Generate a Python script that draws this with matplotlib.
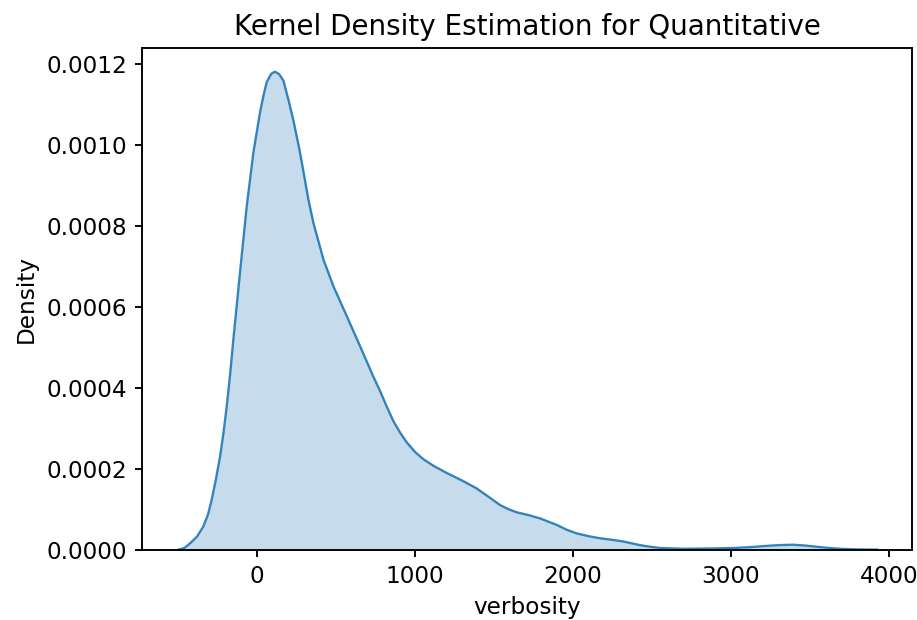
import matplotlib
matplotlib.use("Agg")
import matplotlib.pyplot as plt

# KDE curve (verbosity vs density)
verbosity = [-506, -460, -424, -380, -340, -310, -287, -260, -234, -212, -192,
             -170, -150, -108, -65, -23, 0, 19, 40, 61, 90, 114, 140, 167, 198,
             230, 268, 293, 325, 356, 390, 420, 483, 568, 652, 736, 778, 821,
             863, 905, 947, 1000, 1053, 1120, 1201, 1300, 1390, 1470, 1538,
             1590, 1644, 1720, 1791, 1897, 1960, 2023, 2100, 2171, 2250, 2319,
             2424, 2490, 2551, 2698, 2909, 3020, 3120, 3220, 3300, 3394, 3470,
             3542, 3620, 3690, 3800, 3924]
density = [0.0, 5e-6, 1.65e-5, 3.3e-5, 5.8e-5, 8.8e-5, 1.24e-4, 1.75e-4,
           2.31e-4, 2.90e-4, 3.54e-4, 4.35e-4, 5.19e-4, 6.84e-4, 8.49e-4,
           9.81e-4, 1.035e-3, 1.080e-3, 1.120e-3, 1.154e-3, 1.175e-3, 1.180e-3,
           1.174e-3, 1.158e-3, 1.112e-3, 1.060e-3, 9.89e-4, 9.35e-4, 8.65e-4,
           8.08e-4, 7.60e-4, 7.17e-4, 6.51e-4, 5.77e-4, 5.03e-4, 4.28e-4,
           3.93e-4, 3.54e-4, 3.18e-4, 2.90e-4, 2.66e-4, 2.42e-4, 2.24e-4,
           2.07e-4, 1.90e-4, 1.71e-4, 1.52e-4, 1.30e-4, 1.11e-4, 1.01e-4,
           9.3e-5, 8.6e-5, 7.8e-5, 6.2e-5, 5.0e-5, 4.1e-5, 3.4e-5, 2.9e-5,
           2.5e-5, 2.1e-5, 1.2e-5, 8e-6, 5e-6, 3e-6, 4e-6, 5e-6, 7e-6, 1.0e-5,
           1.2e-5, 1.3e-5, 1.1e-5, 8e-6, 5e-6, 3e-6, 1.5e-6, 1e-6]

title = "Kernel Density Estimation for Quantitative"
xlabel = "verbosity"
ylabel = "Density"
xticks = [0, 1000, 2000, 3000, 4000]
yticks = [0, 0.0002, 0.0004, 0.0006, 0.0008, 0.0010, 0.0012]
ytick_labels = ["0.0000", "0.0002", "0.0004", "0.0006", "0.0008", "0.0010",
                "0.0012"]

dpi = 152.8
fig = plt.figure(figsize=(917 / dpi, 620 / dpi), dpi=dpi)
ax = fig.add_axes([0.1549, 0.1129, 0.9945 - 0.1549, 0.9226 - 0.1129])

color = "#1f77b4"
ax.fill_between(verbosity, density, 0, color=color, alpha=0.25, linewidth=0)
ax.plot(verbosity, density, color=color, linewidth=1.1, alpha=0.9)

ax.set_xlim(-728, 4146)
ax.set_ylim(0, 0.0012385)
ax.set_xticks(xticks)
ax.set_yticks(yticks)
ax.set_yticklabels(ytick_labels)
ax.tick_params(labelsize=10.9, width=0.9)
for s in ax.spines.values():
    s.set_linewidth(0.9)
ax.set_title(title, fontsize=13.1)
ax.set_xlabel(xlabel, fontsize=10.9)
ax.set_ylabel(ylabel, fontsize=10.9)

fig.savefig("out.png", dpi=dpi)
